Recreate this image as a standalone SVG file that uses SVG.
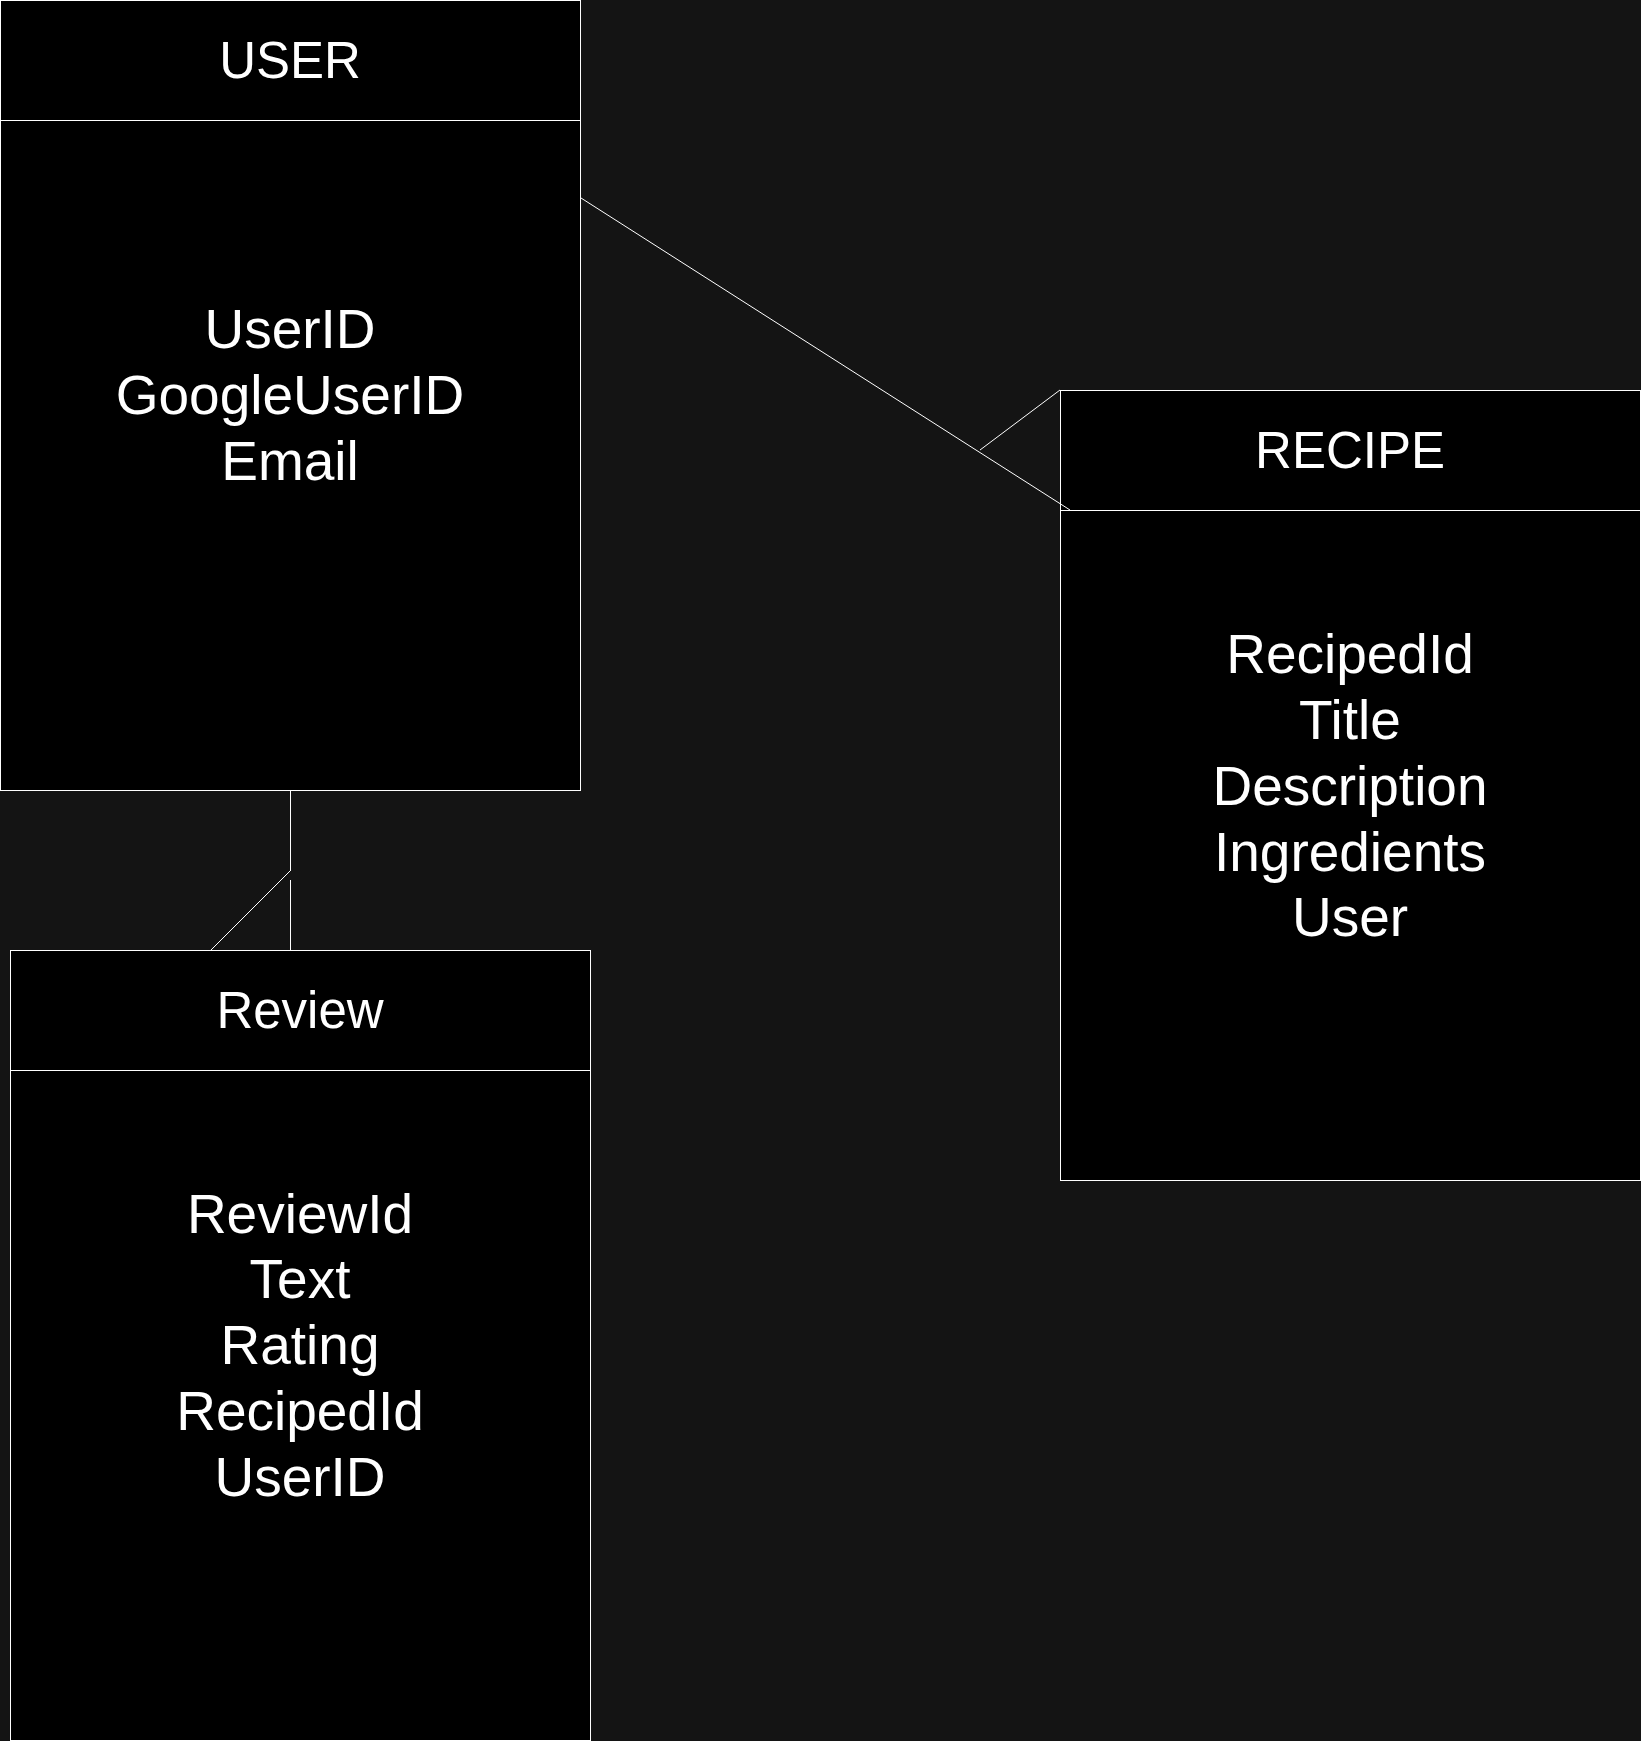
<svg xmlns="http://www.w3.org/2000/svg" width="1641" height="1741" viewBox="0 0 1641 1741">
  <style>
    .box { fill: #000000; stroke: #ffffff; stroke-width: 1; }
    .sep { stroke: #ffffff; stroke-width: 1; fill: none; }
    .conn { stroke: #ffffff; stroke-width: 1; fill: none; }
    .head { font-family: "Liberation Sans", Arial, sans-serif; font-size: 51px; fill: #ffffff; text-anchor: middle; }
    .body { font-family: "Liberation Sans", Arial, sans-serif; font-size: 55px; fill: #ffffff; text-anchor: middle; }
  </style>
  <rect x="0" y="0" width="1641" height="1741" fill="#141414"/>

  <g id="user">
    <rect class="box" x="0.5" y="0.5" width="580" height="790"/>
    <line class="sep" x1="0.5" y1="120.5" x2="580.5" y2="120.5"/>
    <text class="head" x="290" y="78">USER</text>
    <text class="body" x="290" y="348">UserID</text>
    <text class="body" x="290" y="414">GoogleUserID</text>
    <text class="body" x="290" y="480">Email</text>
  </g>

  <g id="recipe">
    <rect class="box" x="1060.5" y="390.5" width="580" height="790"/>
    <line class="sep" x1="1060.5" y1="510.5" x2="1640.5" y2="510.5"/>
    <text class="head" x="1350" y="468">RECIPE</text>
    <text class="body" x="1350" y="673">RecipedId</text>
    <text class="body" x="1350" y="739">Title</text>
    <text class="body" x="1350" y="805">Description</text>
    <text class="body" x="1350" y="871">Ingredients</text>
    <text class="body" x="1350" y="936">User</text>
  </g>

  <g id="review">
    <rect class="box" x="10.5" y="950.5" width="580" height="790"/>
    <line class="sep" x1="10.5" y1="1070.5" x2="590.5" y2="1070.5"/>
    <text class="head" x="300" y="1028">Review</text>
    <text class="body" x="300" y="1233">ReviewId</text>
    <text class="body" x="300" y="1298">Text</text>
    <text class="body" x="300" y="1364">Rating</text>
    <text class="body" x="300" y="1430">RecipedId</text>
    <text class="body" x="300" y="1496">UserID</text>
  </g>

  <g id="connectors">
    <line class="conn" x1="581" y1="198" x2="1070" y2="510"/>
    <line class="conn" x1="980" y1="450" x2="1060" y2="390"/>
    <line class="conn" x1="290.5" y1="791" x2="290.5" y2="871"/>
    <line class="conn" x1="290.5" y1="880" x2="290.5" y2="950"/>
    <line class="conn" x1="290" y1="871" x2="210" y2="951"/>
  </g>
</svg>
